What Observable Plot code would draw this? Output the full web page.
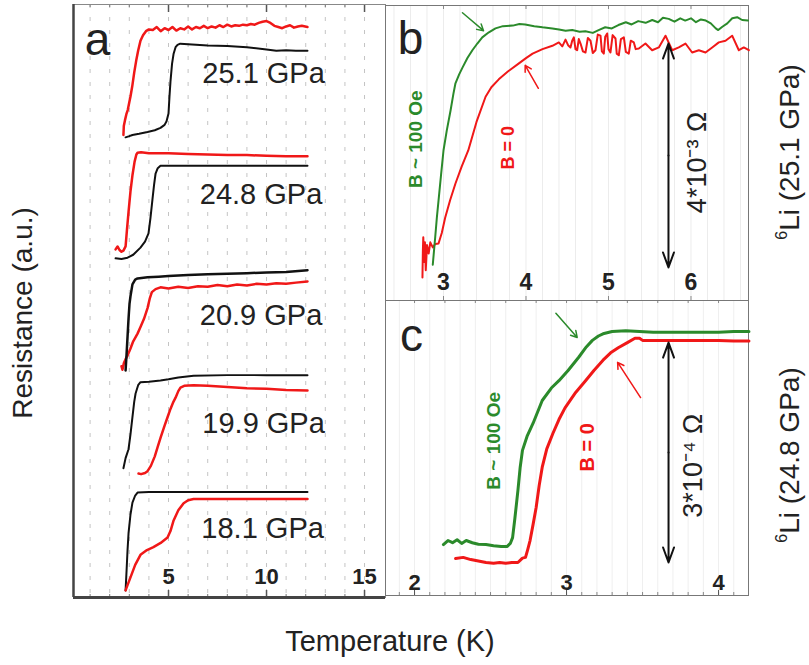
<!DOCTYPE html>
<html><head><meta charset="utf-8">
<script src="https://cdn.jsdelivr.net/npm/d3@7"></script>
<script src="https://cdn.jsdelivr.net/npm/@observablehq/plot@0.6"></script>
<style>
body{margin:0;background:#fff;font-family:"Liberation Sans",Arial,sans-serif;}
#wrap{position:relative;width:809px;height:665px;overflow:hidden;background:#fff;}
.panel{position:absolute;}
.lab{position:absolute;white-space:nowrap;line-height:1;color:#222;font-size:28px;}
.rot{transform:translate(-50%,-50%) rotate(-90deg);}
sup{font-size:16px;vertical-align:top;position:relative;top:-2px;}
</style></head><body><div id="wrap"></div>
<script>
// ---------- Panel a data: [T (K), resistance (a.u., stacked)] ----------
const a251Red = [[2.70,7.80],[2.72,7.95],[2.78,8.05],[2.85,8.15],[2.92,8.22],[3.00,8.35],[3.06,8.45],[3.15,8.62],[3.25,8.85],[3.35,9.05],[3.45,9.22],[3.57,9.39],[3.70,9.48],[3.85,9.55],[4.00,9.58],[4.2,9.57],[4.4,9.62],[4.6,9.55],[4.8,9.60],[5.0,9.57],[5.2,9.62],[5.4,9.56],[5.6,9.60],[5.8,9.58],[6.0,9.63],[6.2,9.58],[6.4,9.62],[6.6,9.60],[6.8,9.64],[7.0,9.60],[7.2,9.63],[7.4,9.61],[7.6,9.65],[7.8,9.62],[8.0,9.66],[8.2,9.63],[8.4,9.65],[8.6,9.64],[8.8,9.66],[9.0,9.65],[9.2,9.67],[9.4,9.66],[9.6,9.69],[9.8,9.71],[10.0,9.72],[10.2,9.69],[10.4,9.64],[10.6,9.62],[10.8,9.60],[11.0,9.63],[11.2,9.65],[11.4,9.61],[11.6,9.63],[11.8,9.64],[12.09,9.62]];
const a251Black = [[2.81,7.76],[3.0,7.78],[3.16,7.80],[3.5,7.82],[3.93,7.85],[4.3,7.88],[4.59,7.92],[4.80,7.97],[4.90,8.03],[5.00,8.16],[5.05,8.45],[5.10,8.70],[5.18,9.00],[5.26,9.17],[5.36,9.28],[5.46,9.32],[5.6,9.34],[6.0,9.33],[7.0,9.31],[8.0,9.30],[9.0,9.28],[10.0,9.24],[10.5,9.22],[11.0,9.23],[11.5,9.22],[12.09,9.22]];
const a248Red = [[2.30,5.87],[2.40,5.92],[2.50,5.86],[2.60,5.83],[2.70,5.85],[2.81,5.92],[2.88,6.20],[2.96,6.50],[3.06,6.85],[3.16,7.12],[3.27,7.35],[3.36,7.47],[3.42,7.50],[3.6,7.51],[4.0,7.49],[5.0,7.49],[6.0,7.48],[7.0,7.47],[8.0,7.46],[9.0,7.46],[10.0,7.45],[11.0,7.44],[12.09,7.44]];
const a248Black = [[2.30,5.72],[2.6,5.71],[2.91,5.73],[3.2,5.78],[3.57,5.90],[3.8,6.00],[3.98,6.14],[4.08,6.40],[4.18,6.71],[4.26,6.95],[4.34,7.15],[4.45,7.24],[4.59,7.28],[6.0,7.28],[8.0,7.28],[10.0,7.28],[12.09,7.28]];
const a209Black = [[2.81,3.83],[2.86,4.10],[2.91,4.40],[2.96,4.70],[3.01,4.95],[3.06,5.08],[3.16,5.28],[3.30,5.36],[3.42,5.38],[3.93,5.40],[4.5,5.41],[5.0,5.42],[6.0,5.44],[7.0,5.45],[8.0,5.46],[9.0,5.47],[10.0,5.48],[11.0,5.49],[12.09,5.52]];
const a209Red = [[2.60,3.90],[2.65,3.84],[2.72,3.95],[2.81,4.02],[2.91,4.08],[3.06,4.20],[3.20,4.32],[3.42,4.45],[3.57,4.56],[3.75,4.70],[3.93,4.88],[4.05,5.05],[4.15,5.15],[4.34,5.20],[4.59,5.23],[5.0,5.21],[5.5,5.24],[6.0,5.22],[6.5,5.25],[7.0,5.24],[7.5,5.27],[8.0,5.25],[8.5,5.28],[9.0,5.26],[9.5,5.29],[10.0,5.28],[10.5,5.30],[11.0,5.29],[11.5,5.31],[12.09,5.33]];
const a199Black = [[2.70,2.18],[2.81,2.35],[2.96,2.50],[3.06,2.75],[3.16,3.04],[3.25,3.30],[3.32,3.44],[3.45,3.58],[3.57,3.63],[4.0,3.64],[4.59,3.66],[5.0,3.68],[5.5,3.71],[6.28,3.74],[8.0,3.75],[10.0,3.75],[12.09,3.75]];
const a199Red = [[3.47,2.09],[3.6,2.08],[3.80,2.10],[3.93,2.13],[4.10,2.22],[4.30,2.38],[4.44,2.53],[4.60,2.70],[4.80,2.90],[4.95,3.04],[5.10,3.18],[5.25,3.30],[5.36,3.37],[5.50,3.48],[5.61,3.54],[5.8,3.57],[6.28,3.58],[7.0,3.57],[8.0,3.55],[9.0,3.53],[10.0,3.52],[11.0,3.50],[12.09,3.49]];
const a181Black = [[2.81,0.12],[2.86,0.45],[2.91,0.80],[2.96,1.08],[3.06,1.40],[3.16,1.60],[3.30,1.72],[3.42,1.77],[4.0,1.78],[6.0,1.78],[8.0,1.78],[10.0,1.78],[12.09,1.78]];
const a181Red = [[2.81,0.12],[2.90,0.20],[3.06,0.34],[3.30,0.55],[3.57,0.72],[3.9,0.80],[4.23,0.85],[4.60,0.92],[4.95,1.01],[5.10,1.12],[5.26,1.30],[5.5,1.47],[5.77,1.59],[6.0,1.64],[6.28,1.66],[8.0,1.66],[10.0,1.66],[12.09,1.66]];
const aPressureLabels = [["25.1 GPa",9.85,8.67],["24.8 GPa",9.72,6.64],["20.9 GPa",9.72,4.59],["19.9 GPa",9.85,2.78],["18.1 GPa",9.80,1.01]];
const aTicks = [1,2,3,4,5,6,7,8,9,10,11,12,13,14,15];
const aMajor = [5,10,15];

// ---------- Panel b data: [T (K), R (mΩ)] 6Li 25.1 GPa ----------
const bGreen = [[2.87,0.05],[2.90,0.55],[2.92,0.90],[2.94,1.20],[2.97,1.65],[3.00,2.09],[3.04,2.45],[3.085,2.80],[3.12,3.10],[3.145,3.29],[3.19,3.45],[3.23,3.57],[3.29,3.74],[3.35,3.88],[3.41,4.00],[3.47,4.11],[3.55,4.20],[3.63,4.27],[3.72,4.31],[3.84,4.32],[3.92,4.35],[3.99,4.34],[4.1,4.31],[4.2,4.29],[4.32,4.27],[4.40,4.25],[4.48,4.23],[4.56,4.24],[4.65,4.21],[4.72,4.22],[4.81,4.19],[4.88,4.24],[4.96,4.29],[5.04,4.27],[5.12,4.33],[5.21,4.38],[5.28,4.34],[5.36,4.40],[5.45,4.37],[5.53,4.42],[5.60,4.38],[5.66,4.46],[5.73,4.44],[5.80,4.39],[5.87,4.45],[5.93,4.41],[6.00,4.45],[6.06,4.38],[6.12,4.43],[6.18,4.41],[6.24,4.36],[6.30,4.27],[6.33,4.24],[6.38,4.30],[6.44,4.36],[6.50,4.45],[6.56,4.47],[6.62,4.42],[6.69,4.41]];
const bRed = [[2.745,-0.18],[2.75,0.30],[2.755,0.54],[2.765,0.10],[2.775,0.45],[2.785,-0.05],[2.80,0.40],[2.82,0.25],[2.84,0.45],[2.87,0.36],[2.90,0.42],[2.94,0.43],[2.98,0.62],[3.02,0.89],[3.08,1.20],[3.145,1.50],[3.22,1.80],[3.30,2.09],[3.40,2.60],[3.51,3.05],[3.58,3.22],[3.67,3.36],[3.78,3.50],[3.91,3.64],[4.00,3.74],[4.08,3.82],[4.20,3.90],[4.32,3.96],[4.398,4.02],[4.44,3.95],[4.479,4.07],[4.51,3.97],[4.539,3.93],[4.56,4.05],[4.580,4.11],[4.60,3.90],[4.620,3.88],[4.64,4.08],[4.661,4.00],[4.69,3.86],[4.721,3.84],[4.75,4.10],[4.782,4.05],[4.81,3.83],[4.842,3.88],[4.87,4.16],[4.903,4.14],[4.92,3.86],[4.943,3.82],[4.96,4.12],[4.984,4.18],[5.00,3.90],[5.024,3.84],[5.05,4.15],[5.085,4.09],[5.10,3.82],[5.125,3.79],[5.15,4.08],[5.186,4.11],[5.21,3.85],[5.246,3.82],[5.27,4.05],[5.307,4.02],[5.33,3.90],[5.368,3.91],[5.448,4.00],[5.529,3.88],[5.610,3.93],[5.691,4.14],[5.772,3.88],[5.852,3.93],[5.933,4.00],[6.014,3.84],[6.095,3.88],[6.176,3.84],[6.257,3.93],[6.337,4.02],[6.418,4.05],[6.499,4.14],[6.580,3.88],[6.640,3.93],[6.701,3.88]];
const bTicks = [3,4,5,6];

// ---------- Panel c data: [T (K), R (1e-4 Ω)] 6Li 24.8 GPa ----------
const cGreen = [[2.19,0.245],[2.22,0.30],[2.25,0.27],[2.28,0.31],[2.31,0.26],[2.34,0.30],[2.38,0.27],[2.42,0.25],[2.47,0.245],[2.52,0.23],[2.57,0.22],[2.61,0.22],[2.63,0.26],[2.645,0.34],[2.66,0.60],[2.68,0.98],[2.695,1.30],[2.71,1.53],[2.74,1.72],[2.78,1.90],[2.84,2.21],[2.90,2.38],[2.95,2.48],[3.01,2.62],[3.08,2.80],[3.13,2.94],[3.17,3.03],[3.21,3.09],[3.24,3.12],[3.30,3.15],[3.39,3.16],[3.48,3.15],[3.57,3.14],[3.67,3.14],[3.78,3.14],[3.89,3.14],[4.00,3.14],[4.10,3.15],[4.20,3.15]];
const cRed = [[2.27,0.055],[2.32,0.07],[2.37,0.04],[2.42,0.02],[2.47,0.00],[2.52,-0.01],[2.56,0.00],[2.60,-0.01],[2.64,0.00],[2.68,0.00],[2.71,0.06],[2.73,0.07],[2.745,0.18],[2.76,0.30],[2.78,0.52],[2.80,0.75],[2.82,1.05],[2.84,1.30],[2.87,1.55],[2.91,1.76],[2.95,1.95],[2.99,2.11],[3.06,2.32],[3.125,2.48],[3.18,2.62],[3.24,2.76],[3.29,2.86],[3.34,2.93],[3.40,3.00],[3.45,3.06],[3.48,3.06],[3.50,3.03],[3.6,3.03],[3.7,3.03],[3.8,3.03],[3.9,3.03],[4.0,3.03],[4.1,3.02],[4.2,3.02]];
const cTicks = [2,3,4];

// annotations: [x1,y1,x2,y2]
const bGreenArrow = [[3.23,4.55,3.485,4.23]];
const bRedArrow = [[4.15,3.20,3.99,3.61]];
const bScaleBar = {T:5.727, lo:0, hi:4, label:"4*10⁻³ Ω"};
const cGreenArrow = [[2.93,3.40,3.07,3.07]];
const cRedArrow = [[3.487,2.25,3.336,2.73]];
const cScaleBar = {T:3.671, lo:0, hi:3, label:"3*10⁻⁴ Ω"};

const RED = "#f01818", GREEN = "#2b8a2b", BLACK = "#111";
const FONT = "'Liberation Sans', Arial, sans-serif";
const wrap = document.getElementById("wrap");

function range(a, b, s) { const r = []; for (let v = a; v <= b + 1e-9; v += s) r.push(+v.toFixed(4)); return r; }
function place(el, left, top) { el.classList.add("panel"); el.style.left = left + "px"; el.style.top = top + "px"; wrap.appendChild(el); }
const xy = {x: d => d[0], y: d => d[1]};
const arr = {x1: d => d[0], y1: d => d[1], x2: d => d[2], y2: d => d[3]};
const common = {margin: 0, style: {overflow: "visible", background: "none", fontFamily: FONT}};

// ---------- Panel a ----------
const aW = 312, aH = 593, aX = [0.153, 16.07], aY = [0, 10];
const pa = Plot.plot({
  ...common, width: aW, height: aH,
  x: {domain: aX, axis: null}, y: {domain: aY, axis: null},
  marks: [
    Plot.ruleX(aTicks, {stroke: "#c4c4c4", strokeDasharray: "4,9", strokeWidth: 1}),
    Plot.ruleX(aTicks, {stroke: "#777", insetBottom: aH - 3}),
    Plot.ruleX(aMajor, {stroke: "#555", insetBottom: aH - 8, strokeWidth: 1.5}),
    Plot.ruleX(aTicks, {stroke: "#777", insetTop: aH - 3}),
    Plot.ruleX(aMajor, {stroke: "#555", insetTop: aH - 7, strokeWidth: 1.5}),
    Plot.frame({stroke: "#888"}),
    Plot.ruleX([aX[0]], {stroke: "#444", strokeWidth: 2.5}),
    Plot.ruleY([aY[0]], {stroke: "#444", strokeWidth: 3}),
    Plot.line(a251Black, {...xy, stroke: BLACK, strokeWidth: 2}),
    Plot.line(a251Red, {...xy, stroke: RED, strokeWidth: 2.5}),
    Plot.line(a248Black, {...xy, stroke: BLACK, strokeWidth: 2}),
    Plot.line(a248Red, {...xy, stroke: RED, strokeWidth: 2.5}),
    Plot.line(a209Red, {...xy, stroke: RED, strokeWidth: 2.5}),
    Plot.line(a209Black, {...xy, stroke: BLACK, strokeWidth: 2.5}),
    Plot.line(a199Black, {...xy, stroke: BLACK, strokeWidth: 2}),
    Plot.line(a199Red, {...xy, stroke: RED, strokeWidth: 2.5}),
    Plot.line(a181Black, {...xy, stroke: BLACK, strokeWidth: 2}),
    Plot.line(a181Red, {...xy, stroke: RED, strokeWidth: 2.5}),
    Plot.text(aPressureLabels, {x: d => d[1], y: d => d[2], text: d => d[0], fontSize: 29, fill: "#222", lineAnchor: "bottom"}),
    Plot.text(["a"], {x: 1.38, y: 9.14, text: d => d, fontSize: 46, fill: "#222", lineAnchor: "bottom"}),
    Plot.text(aMajor, {x: d => d, y: 0.236, text: d => String(d), fontSize: 22, fontWeight: "bold", fill: "#222", lineAnchor: "bottom"})
  ]
});
place(pa, 73, 4);

// ---------- Panel b ----------
const bW = 363, bH = 295, bX = [2.297, 6.697], bY = [-0.589, 4.679];
const pb = Plot.plot({
  ...common, width: bW, height: bH,
  x: {domain: bX, axis: null}, y: {domain: bY, axis: null},
  marks: [
    Plot.ruleX(range(2.4, 6.6, 0.2), {stroke: "#ececec", strokeWidth: 1}),
    Plot.ruleX(bTicks, {stroke: "#888", insetBottom: bH - 4}),
    Plot.ruleX(bTicks, {stroke: "#888", insetTop: bH - 4}),
    Plot.frame({stroke: "#777"}),
    Plot.line(bRed, {...xy, stroke: RED, strokeWidth: 2}),
    Plot.line(bGreen, {...xy, stroke: GREEN, strokeWidth: 2}),
    Plot.arrow(bGreenArrow, {...arr, stroke: GREEN, strokeWidth: 1.5, headLength: 7}),
    Plot.arrow(bRedArrow, {...arr, stroke: RED, strokeWidth: 1.5, headLength: 7}),
    Plot.arrow([bScaleBar], {x1: d => d.T, y1: d => (d.lo + d.hi) / 2, x2: d => d.T, y2: d => d.hi, stroke: BLACK, strokeWidth: 2, headLength: 12, headAngle: 40}),
    Plot.arrow([bScaleBar], {x1: d => d.T, y1: d => (d.lo + d.hi) / 2, x2: d => d.T, y2: d => d.lo, stroke: BLACK, strokeWidth: 2, headLength: 12, headAngle: 40}),
    Plot.text([bScaleBar], {x: 6.08, y: 1.875, text: d => d.label, rotate: -90, fontSize: 27, fill: "#222"}),
    Plot.text(["B ~ 100 Oe"], {x: 2.66, y: 2.29, text: d => d, rotate: -90, fontSize: 19, fontWeight: "bold", fill: GREEN}),
    Plot.text(["B = 0"], {x: 3.79, y: 2.14, text: d => d, rotate: -90, fontSize: 18, fontWeight: "bold", fill: RED}),
    Plot.text(["b"], {x: 2.60, y: 3.82, text: d => d, fontSize: 46, fill: "#222", lineAnchor: "bottom"}),
    Plot.text(bTicks, {x: d => d, y: -0.41, text: d => String(d), fontSize: 23, fontWeight: "bold", fill: "#222", lineAnchor: "bottom"})
  ]
});
place(pb, 385, 5);

// ---------- Panel c ----------
const cW = 363, cH = 295, cX = [1.809, 4.197], cY = [-0.450, 3.574];
const pc = Plot.plot({
  ...common, width: cW, height: cH,
  x: {domain: cX, axis: null}, y: {domain: cY, axis: null},
  marks: [
    Plot.ruleX(range(1.9, 4.1, 0.1), {stroke: "#efefef", strokeWidth: 1}),
    Plot.ruleX(range(2.0, 4.0, 0.2), {stroke: "#888", insetBottom: cH - 3}),
    Plot.ruleX(range(1.9, 4.1, 0.1), {stroke: "#888", insetTop: cH - 3}),
    Plot.ruleX(cTicks, {stroke: "#555", insetTop: cH - 5}),
    Plot.frame({stroke: "#777"}),
    Plot.line(cRed, {...xy, stroke: RED, strokeWidth: 3}),
    Plot.line(cGreen, {...xy, stroke: GREEN, strokeWidth: 3}),
    Plot.arrow(cGreenArrow, {...arr, stroke: GREEN, strokeWidth: 1.5, headLength: 7}),
    Plot.arrow(cRedArrow, {...arr, stroke: RED, strokeWidth: 1.5, headLength: 7}),
    Plot.arrow([cScaleBar], {x1: d => d.T, y1: d => (d.lo + d.hi) / 2, x2: d => d.T, y2: d => d.hi, stroke: BLACK, strokeWidth: 2, headLength: 12, headAngle: 40}),
    Plot.arrow([cScaleBar], {x1: d => d.T, y1: d => (d.lo + d.hi) / 2, x2: d => d.T, y2: d => d.lo, stroke: BLACK, strokeWidth: 2, headLength: 12, headAngle: 40}),
    Plot.text([cScaleBar], {x: 3.836, y: 1.32, text: d => d.label, rotate: -90, fontSize: 27, fill: "#222"}),
    Plot.text(["B ~ 100 Oe"], {x: 2.52, y: 1.66, text: d => d, rotate: -90, fontSize: 19, fontWeight: "bold", fill: GREEN}),
    Plot.text(["B = 0"], {x: 3.138, y: 1.57, text: d => d, rotate: -90, fontSize: 20, fontWeight: "bold", fill: RED}),
    Plot.text(["c"], {x: 1.98, y: 2.89, text: d => d, fontSize: 46, fill: "#222", lineAnchor: "bottom"}),
    Plot.text(cTicks, {x: d => d, y: -0.38, text: d => String(d), fontSize: 22, fontWeight: "bold", fill: "#222", lineAnchor: "bottom"})
  ]
});
place(pc, 385, 300);

// ---------- Outer labels ----------
function label(html, left, top, rot, size) {
  const d = document.createElement("div");
  d.className = "lab" + (rot ? " rot" : "");
  d.innerHTML = html;
  d.style.left = left + "px"; d.style.top = top + "px";
  if (size) d.style.fontSize = size + "px";
  if (!rot) d.style.transform = "translate(-50%,-50%)";
  wrap.appendChild(d);
}
label("Resistance (a.u.)", 23, 313, true);
label("Temperature (K)", 390, 641, false, 29);
label("<sup>6</sup>Li (25.1 GPa)", 790, 152, true);
label("<sup>6</sup>Li (24.8 GPa)", 790, 455, true);
</script></body></html>
